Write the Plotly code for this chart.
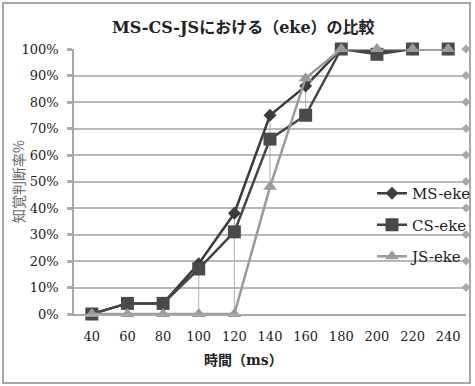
import plotly.graph_objects as go

categories = ["40", "60", "80", "100", "120", "140", "160", "180", "200", "220", "240"]
ms_eke = [0.00, 0.04, 0.04, 0.19, 0.38, 0.75, 0.86, 1.00, 0.99, 1.00, 1.00]
cs_eke = [0.00, 0.04, 0.04, 0.17, 0.31, 0.66, 0.75, 1.00, 0.98, 1.00, 1.00]
js_eke = [0.00, 0.00, 0.00, 0.00, 0.00, 0.48, 0.89, 1.00, 1.00, 1.00, 1.00]
y_ticks = [i / 10 for i in range(11)]
y_labels = [f"{i*10}%" for i in range(11)]

title_text = "MS-CS-JSにおける（eke）の比較"
x_title = "時間（ms）"
y_title = "知覚判断率%"

W, H = 475, 386
L, R, T, B = 74, 9, 49, 72
pw, ph = W - L - R, H - T - B

serif = "DejaVu Serif, Noto Sans CJK JP"

# high-low lines derived from data
hl_x, hl_y = [], []
for i, c in enumerate(categories):
    vals = [ms_eke[i], cs_eke[i], js_eke[i]]
    hl_x += [c, c, None]
    hl_y += [min(vals), max(vals), None]

# gridline end ornaments on the right edge (at each gridline above 0%)
edge_y = y_ticks[1:]

fig = go.Figure()
fig.add_trace(go.Scatter(x=hl_x, y=hl_y, mode="lines", line=dict(color="#b0b0b0", width=1),
                         showlegend=False, hoverinfo="skip"))
fig.add_trace(go.Scatter(x=[1.0] * len(edge_y), y=edge_y, mode="markers", xaxis="x2",
                         marker=dict(symbol="diamond", size=7, color="#a8a8a8"),
                         showlegend=False, hoverinfo="skip", cliponaxis=False))
fig.add_trace(go.Scatter(x=categories, y=ms_eke, name="MS-eke", mode="lines+markers",
                         line=dict(color="#3c3c3c", width=2.5),
                         marker=dict(symbol="diamond", size=10, color="#3c3c3c"),
                         legendgroup="a", cliponaxis=False))
fig.add_trace(go.Scatter(x=categories, y=cs_eke, name="CS-eke", mode="lines+markers",
                         line=dict(color="#444444", width=2.5),
                         marker=dict(symbol="square", size=13, color="#4a4a4a"),
                         legendgroup="b", cliponaxis=False))
fig.add_trace(go.Scatter(x=categories, y=js_eke, name="JS-eke", mode="lines+markers",
                         line=dict(color="#9a9a9a", width=2.5),
                         marker=dict(symbol="triangle-up", size=12, color="#9a9a9a"),
                         legendgroup="c", cliponaxis=False))

def px_x(p):
    return (p - L) / pw

def px_y(p):
    return (H - B - p) / ph

fig.update_layout(
    width=W, height=H,
    margin=dict(l=L, r=R, t=T, b=B, autoexpand=False),
    paper_bgcolor="white", plot_bgcolor="white",
    font=dict(family=serif, size=13, color="#222222"),
    showlegend=True,
    legend=dict(x=px_x(372), y=px_y(177), xanchor="left", yanchor="top",
                bgcolor="rgba(0,0,0,0)", font=dict(family="DejaVu Serif", size=15, color="#222222"),
                tracegroupgap=9, traceorder="grouped", itemwidth=30),
    xaxis=dict(type="category", categoryorder="array", categoryarray=categories,
               range=[-0.5, len(categories) - 0.5],
               showgrid=False, showline=True, linecolor="#a8a8a8", linewidth=1.5,
               ticks="", ticklabelstandoff=10, tickfont=dict(family="DejaVu Serif", size=13),
               zeroline=False, fixedrange=True),
    xaxis2=dict(range=[0, 1], overlaying="x", visible=False),
    yaxis=dict(range=[0, 1], tickvals=y_ticks, ticktext=y_labels,
               showgrid=True, gridcolor="#b8b8b8", gridwidth=1.5,
               showline=True, linecolor="#a8a8a8", linewidth=1.5,
               ticks="outside", ticklen=5, tickwidth=3, tickcolor="#aaaaaa",
               ticklabelstandoff=6,
               tickfont=dict(family="DejaVu Serif", size=13), zeroline=False),
    annotations=[
        dict(text="<b>" + title_text + "</b>", x=px_x(243), y=px_y(27), xref="paper", yref="paper",
             showarrow=False, xanchor="center", yanchor="middle",
             font=dict(family=serif, size=16, color="#222222")),
        dict(text="<b>" + x_title + "</b>", x=px_x(243), y=px_y(360), xref="paper", yref="paper",
             showarrow=False, xanchor="center", yanchor="middle",
             font=dict(family=serif, size=14, color="#222222")),
        dict(text=y_title, x=px_x(18), y=px_y(182), xref="paper", yref="paper",
             showarrow=False, xanchor="center", yanchor="middle", textangle=-90,
             font=dict(family="Noto Sans CJK JP", size=14, color="#666666")),
    ],
    shapes=[dict(type="rect", xref="paper", yref="paper",
                 x0=px_x(3), x1=px_x(470), y0=px_y(383), y1=px_y(3),
                 line=dict(color="#8a8a8a", width=1.5), layer="below")],
)

fig.write_html("out.html")
